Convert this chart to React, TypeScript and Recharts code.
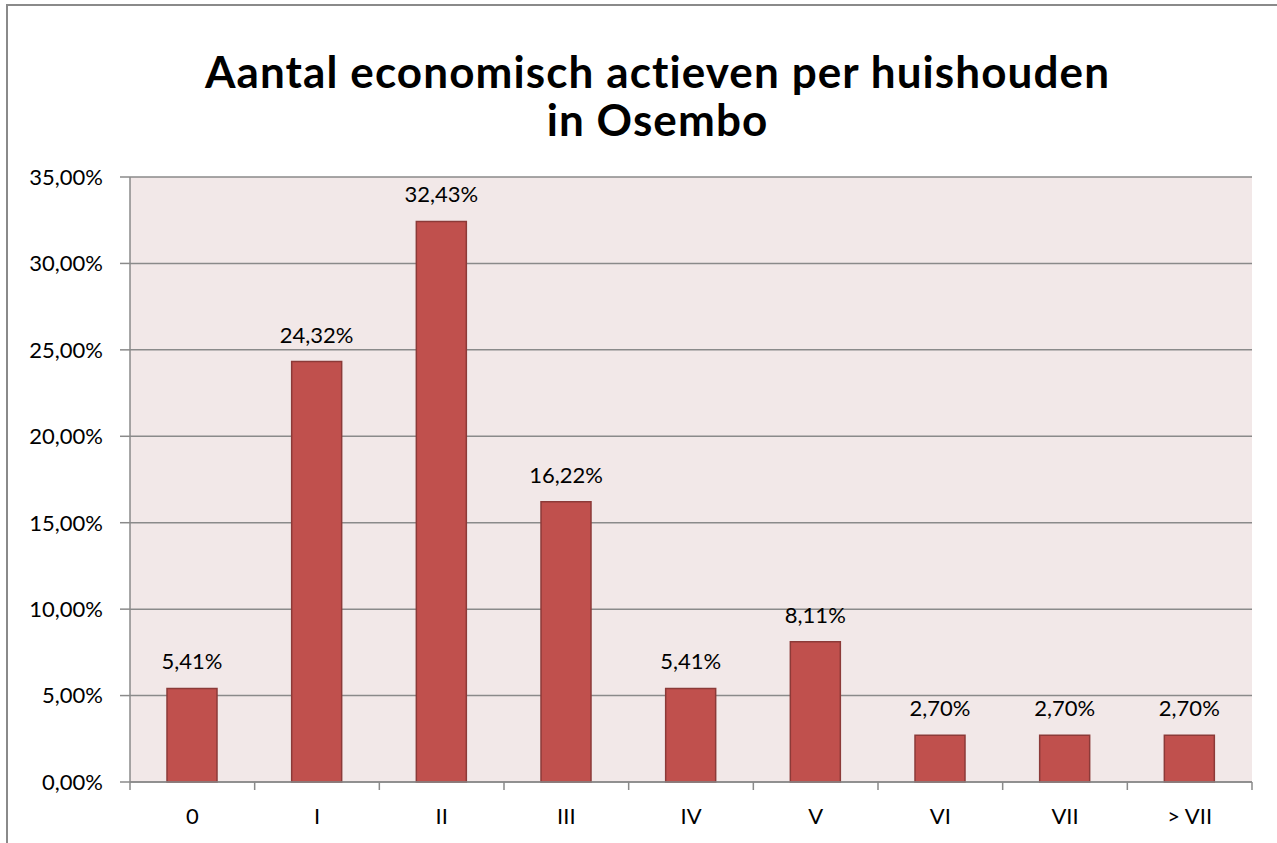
import React from "react";
import { BarChart, Bar, XAxis, YAxis, CartesianGrid, LabelList } from "recharts";

const categories = ["0", "I", "II", "III", "IV", "V", "VI", "VII", "> VII"];
const shares = [5.41, 24.32, 32.43, 16.22, 5.41, 8.11, 2.7, 2.7, 2.7];
const yTicks = [0, 5, 10, 15, 20, 25, 30, 35];

const data = categories.map((name, i) => ({ name, value: shares[i] }));

const W = 1277;
const H = 843;
const X_HEIGHT = 30;
const MARGIN = { top: 177, right: 25, bottom: 61 - X_HEIGHT, left: 40 };
const Y_WIDTH = 90;
const PLOT_W = W - MARGIN.left - Y_WIDTH - MARGIN.right;
const BAND = PLOT_W / categories.length;
const AXIS_Y = 782;
const FONT = "Lato, 'Open Sans', sans-serif";
const GRID = "#8a8a8a";

const pct = (v: number) => v.toFixed(2).replace(".", ",") + "%";

function XTick(props: any) {
  const { x, payload, index } = props;
  const left = x - BAND / 2;
  const right = x + BAND / 2;
  return (
    <g>
      <line x1={left} x2={left} y1={AXIS_Y} y2={AXIS_Y + 8} stroke={GRID} strokeWidth={1.5} />
      {index === categories.length - 1 && (
        <line x1={right} x2={right} y1={AXIS_Y} y2={AXIS_Y + 8} stroke={GRID} strokeWidth={1.5} />
      )}
      <text x={x} y={AXIS_Y + 42} textAnchor="middle" fontSize={22} fill="#000" fontFamily={FONT}>
        {payload.value}
      </text>
    </g>
  );
}

const titleStyle: React.CSSProperties = {
  position: "absolute",
  left: 0,
  width: 1315,
  textAlign: "center",
  fontFamily: FONT,
  fontWeight: 700,
  fontSize: 44,
  lineHeight: "48px",
  letterSpacing: 1.1,
  color: "#000",
  whiteSpace: "nowrap",
};

export default function App() {
  return (
    <div style={{ position: "absolute", left: 0, top: 0, width: W, height: H, overflow: "hidden", background: "#fff" }}>
      <div
        style={{
          position: "absolute",
          left: 6,
          top: 4,
          width: W + 40,
          height: H + 40,
          border: "2px solid #8a8a8a",
        }}
      />
      <div style={{ ...titleStyle, top: 47 }}>Aantal economisch actieven per huishouden</div>
      <div style={{ ...titleStyle, top: 95 }}>in Osembo</div>
      <div style={{ position: "absolute", left: 0, top: 0 }}>
        <BarChart width={W} height={H} data={data} margin={MARGIN}>
          <CartesianGrid vertical={false} stroke={GRID} strokeWidth={1.5} fill="#f2e8e8" fillOpacity={1} />
          <XAxis
            dataKey="name"
            height={X_HEIGHT}
            axisLine={{ stroke: GRID, strokeWidth: 1.5 }}
            tickLine={false}
            tick={<XTick />}
            interval={0}
          />
          <YAxis
            width={Y_WIDTH}
            domain={[0, 35]}
            ticks={yTicks}
            interval={0}
            tickFormatter={pct}
            axisLine={{ stroke: GRID, strokeWidth: 1.5 }}
            tickLine={{ stroke: GRID, strokeWidth: 1.5 }}
            tickSize={10}
            tickMargin={17}
            tick={{ fontSize: 22, fill: "#000", fontFamily: FONT }}
          />
          <Bar dataKey="value" fill="#c0504d" stroke="#8c3a38" strokeWidth={1.5} barSize={50} isAnimationActive={false}>
            <LabelList
              dataKey="value"
              position="top"
              offset={19}
              formatter={(v: any) => pct(Number(v))}
              style={{ fontSize: 22, fill: "#000", fontFamily: FONT }}
            />
          </Bar>
        </BarChart>
      </div>
    </div>
  );
}
